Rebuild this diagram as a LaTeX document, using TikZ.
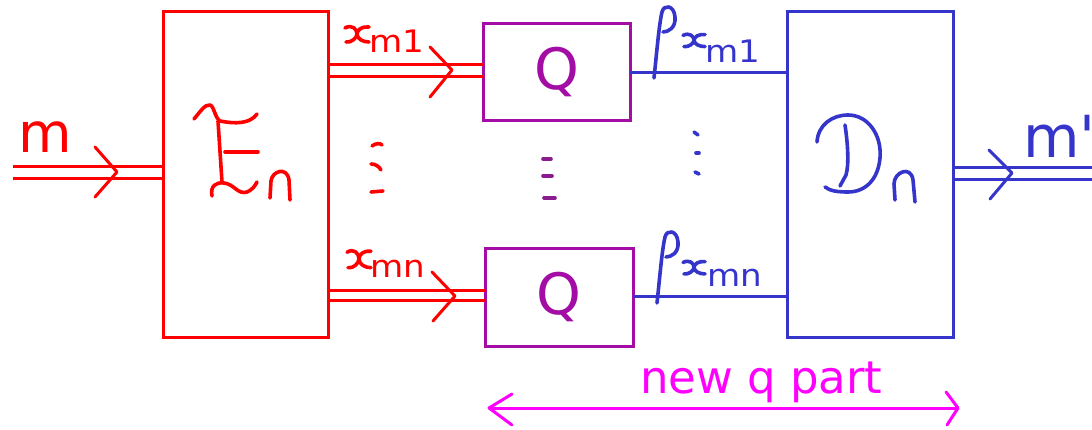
\documentclass[tikz,border=0pt]{standalone}
\usepackage{fontspec}
\newfontfamily\lab{DejaVu Sans}
\definecolor{cred}{HTML}{FF0000}
\definecolor{cpur}{HTML}{A30DA6}
\definecolor{cdot}{HTML}{8A1C90}
\definecolor{cblue}{HTML}{3535CC}
\definecolor{cmag}{HTML}{FF00FF}
\newcommand\subtxt[1]{\scalebox{1.1}[1]{\lab\fontsize{31}{32}\selectfont #1}}
\tikzset{
  box/.style={draw, line width=3pt, minimum width=#1, inner sep=0pt, outer sep=0pt},
  conn/.style={line width=3pt},
  chev/.style={line width=3pt, line cap=round, line join=round},
  hand/.style={line width=3.6pt, line cap=round, line join=round},
  txt/.style={inner sep=0pt, outer sep=0pt, anchor=base west},
  hx/.pic={
    \draw[hand] (0,3) .. controls (7,-1) and (12,4) .. (12,9) .. controls (12,13) and (6,18) .. (1,17);
    \draw[hand] (24,2) .. controls (17,1) and (12,5) .. (12,9) .. controls (12,14) and (18,17) .. (24,17);
  },
  rho/.pic={
    \draw[hand] (654,78) .. controls (657,50) and (659,25) .. (662,12) .. controls (664,4) and (674,5) .. (675,17) .. controls (676,28) and (668,32) .. (663,32);
  }
}
\begin{document}
\begin{tikzpicture}[x=1pt,y=-1pt]
\useasboundingbox (0,0) rectangle (1092,430);
% boxes
\node[box=165pt, minimum height=325pt, cred] (E) at (245.5,174.5) {};
\node[box=166pt, minimum height=325pt, cblue] (D) at (870,174.5) {};
\node[box=147pt, minimum height=97pt, cpur, text=cpur] (Q1) at (556.5,72.5) {\lab\fontsize{57}{60}\selectfont Q};
\node[box=148pt, minimum height=97pt, cpur, text=cpur] (Q2) at (559,297.5) {\lab\fontsize{57}{60}\selectfont Q};
% level coordinates
\coordinate (inT) at (13,167); \coordinate (inB) at (13,179);
\coordinate (a1t) at (0,65); \coordinate (a1b) at (0,77);
\coordinate (a2t) at (0,291); \coordinate (a2b) at (0,301);
\coordinate (outT) at (1095,168); \coordinate (outB) at (1095,180);
\coordinate (b1) at (0,73); \coordinate (b2) at (0,297);
\coordinate (nl) at (489,408); \coordinate (nr) at (958,408);
% input arrow
\draw[conn, cred] (inT) -- (E.west |- inT);
\draw[conn, cred] (inB) -- (E.west |- inB);
\draw[chev, cred, shift={(117,172)}] (-22,-25) -- (0,0) -- (-22,25);
\node[txt, cred] (m) at (18,153) {\lab\fontsize{55}{60}\selectfont m};
% E to Q arrows
\draw[conn, cred] (E.east |- a1t) -- (Q1.west |- a1t);
\draw[conn, cred] (E.east |- a1b) -- (Q1.west |- a1b);
\draw[chev, cred, shift={(452,70)}] (-22,-23) -- (0,0) -- (-22,27);
\draw[conn, cred] (E.east |- a2t) -- (Q2.west |- a2t);
\draw[conn, cred] (E.east |- a2b) -- (Q2.west |- a2b);
\draw[chev, cred, shift={(455,296)}] (-23,-24) -- (0,0) -- (-22,25);
% labels x_m1, x_mn
\pic[cred] at (345,25) {hx};
\node[txt, cred] (s1) at (369,53) {\subtxt{m1}};
\pic[cred, yscale=1.1] at (347,249) {hx};
\node[txt, cred] (s2) at (370,278) {\subtxt{mn}};
% Q to D lines
\draw[conn, cblue] (Q1.east |- b1) -- (D.west |- b1);
\draw[conn, cblue] (Q2.east |- b2) -- (D.west |- b2);
\pic[cblue] at (0,0) {rho};
\pic[cblue] at (3,225) {rho};
\pic[cblue, xscale=0.92, yscale=0.8] at (683,33) {hx};
\node[txt, cblue] (s3) at (705,63) {\subtxt{m1}};
\pic[cblue, xscale=0.92, yscale=0.82] at (683,260) {hx};
\node[txt, cblue] (s4) at (707,287) {\subtxt{mn}};
% output arrow
\draw[conn, cblue] (D.east |- outT) -- (outT);
\draw[conn, cblue] (D.east |- outB) -- (outB);
\draw[chev, cblue, shift={(1012,173)}] (-23,-23) -- (0,0) -- (-22,26);
\node[txt, cblue] (mp) at (1023,158) {\lab\fontsize{58}{60}\selectfont m\char39};
% E script
\draw[hand, cred] (194,119) .. controls (200,112) and (205,104) .. (210,105) .. controls (214,106) and (215,118) .. (220,121) .. controls (235,124) and (250,124) .. (257,114);
\draw[hand, cred] (218,121) -- (222,182);
\draw[hand, cred] (225,152) -- (258,152);
\draw[hand, cred] (212,196) .. controls (210,186) and (216,182) .. (224,183) .. controls (234,184) and (238,195) .. (247,192) .. controls (252,190) and (255,186) .. (257,182);
\draw[hand, cred] (270,198) -- (271,181) .. controls (272,171) and (287,166) .. (289,180) -- (290,200);
% D script
\draw[hand, cblue] (817,142) .. controls (818,125) and (832,115) .. (848,115) .. controls (868,115) and (882,135) .. (880,158) .. controls (878,180) and (865,192) .. (848,192) .. controls (838,192) and (830,191) .. (825,187);
\draw[hand, cblue] (845,125) .. controls (848,145) and (849,165) .. (846,175) -- (840,186);
\draw[hand, cblue] (895,200) -- (894,184) .. controls (894,172) and (911,165) .. (913,180) -- (915,202);
% dots
\draw[hand, cred] (372,146) .. controls (376,143) and (380,143) .. (382,145);
\draw[hand, cred] (371,164) .. controls (375,164) and (379,166) .. (381,170);
\draw[hand, cred] (371,192) -- (383,191);
\draw[hand, cdot] (543,159) -- (551,159);
\draw[hand, cdot] (543,176) -- (552,176);
\draw[hand, cdot] (544,198) -- (555,198);
\draw[hand, cblue] (694,132) -- (698,135);
\draw[hand, cblue] (696,153) -- (699,153);
\draw[hand, cblue] (695,172) -- (699,174);
% new q part
\draw[conn, cmag] (nl) -- (nr);
\draw[chev, cmag, shift={(489,408)}] (23,-14) -- (0,0) -- (23,17);
\draw[chev, cmag, shift={(958,408)}] (-12,-16) -- (0,0) -- (-11,17);
\node[txt, cmag] (nq) at (640,393) {\lab\fontsize{45}{46}\selectfont new q part};
\end{tikzpicture}
\end{document}
